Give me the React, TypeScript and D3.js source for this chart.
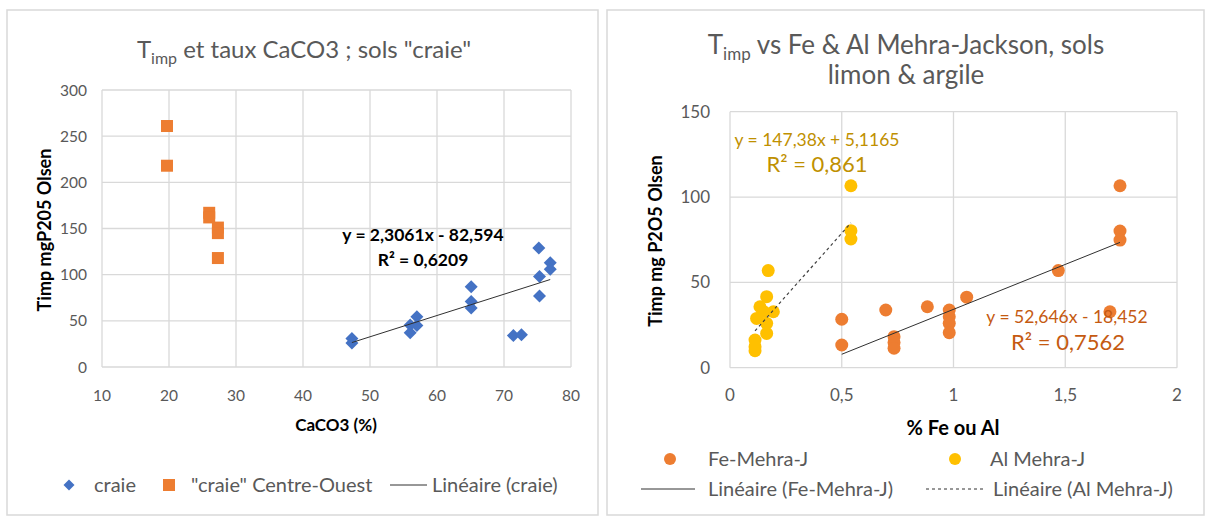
import React from "react";
import * as d3 from "d3";

// ---------- Data: left chart (CaCO3) ----------
const craieX = [47.3, 47.3, 56.0, 56.0, 57.0, 57.0, 65.1, 65.1, 65.1, 71.4, 72.6, 75.2, 75.3, 75.3, 76.9, 76.9];
const craieY = [31, 26, 45.5, 37, 54.5, 45, 87, 71, 64, 34, 35, 129, 98, 77, 113, 106];
const coX = [19.7, 19.7, 26.0, 26.0, 27.3, 27.3, 27.3];
const coY = [261, 218, 167, 162, 151, 145, 118];
const craieFit = [2.3061, -82.594];
const leftXTicks = [10, 20, 30, 40, 50, 60, 70, 80];
const leftYTicks = [0, 50, 100, 150, 200, 250, 300];

// ---------- Data: right chart (Fe / Al) ----------
const feX = [0.5, 0.5, 0.697, 0.734, 0.734, 0.734, 0.883, 0.981, 0.981, 0.981, 0.981, 1.059, 1.469, 1.70, 1.745, 1.745, 1.745];
const feY = [28.4, 13.3, 33.8, 18.2, 14.7, 11.4, 35.7, 33.8, 29.9, 26, 20.5, 41.3, 56.9, 32.8, 106.6, 80.1, 74.8];
const alX = [0.541, 0.541, 0.541, 0.171, 0.164, 0.134, 0.194, 0.149, 0.119, 0.164, 0.164, 0.112, 0.112, 0.112];
const alY = [106.6, 80.3, 75.4, 56.9, 41.6, 35.7, 32.8, 33, 28.9, 26, 20.1, 16.2, 12.3, 10];
const feFit = [52.646, -18.452];
const alFit = [147.38, 5.1165];
const rightXTicks = [0, 0.5, 1, 1.5, 2];
const rightYTicks = [0, 50, 100, 150];

const FONT = "Lato, 'Open Sans', sans-serif";
const GRID = "#d9d9d9";
const TICK = "#595959";
const BLUE = "#4472C4";
const ORANGE = "#ED7D31";
const YELLOW = "#FFC000";
const LEG = 20;

const fmt = (v: number) => String(v).replace(".", ",");

function diamond(cx: number, cy: number, r: number) {
  return `M${cx},${cy - r}L${cx + r},${cy}L${cx},${cy + r}L${cx - r},${cy}Z`;
}

function LeftChart() {
  const x = d3.scaleLinear().domain([10, 80]).range([102, 571]);
  const y = d3.scaleLinear().domain([0, 300]).range([367, 90]);
  const xs = d3.extent(craieX) as [number, number];
  const line = d3.line<number>().x((d) => x(d)).y((d) => y(craieFit[0] * d + craieFit[1]));
  return (
    <g>
      <rect x={7} y={10} width={591} height={505} fill="#fff" stroke={GRID} strokeWidth={1.5} />
      <text x={304} y={58} textAnchor="middle" fontSize={24} fill="#595959" fontFamily={FONT}>
        T<tspan fontSize={16} dy={6}>imp</tspan>
        <tspan dy={-6}> et taux CaCO3 ; sols "craie"</tspan>
      </text>
      {leftXTicks.map((t) => (
        <line key={"gx" + t} x1={x(t)} x2={x(t)} y1={y(0)} y2={y(300)} stroke={GRID} strokeWidth={1.3} />
      ))}
      {leftYTicks.map((t) => (
        <line key={"gy" + t} x1={x(10)} x2={x(80)} y1={y(t)} y2={y(t)} stroke={GRID} strokeWidth={1.3} />
      ))}
      {leftYTicks.map((t) => (
        <text key={"ty" + t} x={87} y={y(t) + 5.5} textAnchor="end" fontSize={15.5} fill={TICK} fontFamily={FONT}>
          {t}
        </text>
      ))}
      {leftXTicks.map((t) => (
        <text key={"tx" + t} x={x(t)} y={401} textAnchor="middle" fontSize={15.5} fill={TICK} fontFamily={FONT}>
          {t}
        </text>
      ))}
      <text x={336} y={431} textAnchor="middle" fontSize={17} fontWeight="bold" fill="#000" fontFamily={FONT}>
        CaCO3 (%)
      </text>
      <text transform={`translate(51,230) rotate(-90)`} textAnchor="middle" fontSize={18} fontWeight="bold" fill="#000" fontFamily={FONT}>
        Timp mgP205 Olsen
      </text>
      {coX.map((v, i) => (
        <rect key={"co" + i} x={x(v) - 6} y={y(coY[i]) - 6} width={12} height={12} fill={ORANGE} />
      ))}
      {craieX.map((v, i) => (
        <path key={"cr" + i} d={diamond(x(v), y(craieY[i]), 6.5)} fill={BLUE} />
      ))}
      <path d={line(xs) || ""} stroke="#303030" strokeWidth={1} fill="none" />
      <text x={423} y={241} textAnchor="middle" fontSize={17.5} fontWeight="bold" fill="#000" fontFamily={FONT}>
        y = 2,3061x - 82,594
      </text>
      <text x={423} y={266} textAnchor="middle" fontSize={17.5} fontWeight="bold" fill="#000" fontFamily={FONT}>
        R² = 0,6209
      </text>
      {/* legend */}
      <path d={diamond(69, 485, 5.5)} fill={BLUE} />
      <text x={94} y={492} fontSize={LEG} fill={TICK} fontFamily={FONT}>craie</text>
      <rect x={163} y={479} width={12} height={12} fill={ORANGE} />
      <text x={191} y={492} fontSize={LEG} fill={TICK} fontFamily={FONT}>"craie" Centre-Ouest</text>
      <line x1={390} x2={427} y1={485} y2={485} stroke="#303030" strokeWidth={1} />
      <text x={432} y={492} fontSize={LEG} fill={TICK} fontFamily={FONT}>Linéaire (craie)</text>
    </g>
  );
}

function RightChart() {
  const x = d3.scaleLinear().domain([0, 2]).range([730, 1177]);
  const y = d3.scaleLinear().domain([0, 150]).range([367.7, 111.7]);
  const feExt = d3.extent(feX) as [number, number];
  const alExt = d3.extent(alX) as [number, number];
  const feLine = d3.line<number>().x((d) => x(d)).y((d) => y(feFit[0] * d + feFit[1]));
  const alLine = d3.line<number>().x((d) => x(d)).y((d) => y(alFit[0] * d + alFit[1]));
  return (
    <g>
      <rect x={607} y={10} width={597} height={505} fill="#fff" stroke={GRID} strokeWidth={1.5} />
      <text x={906} y={54} textAnchor="middle" fontSize={26} fill="#595959" fontFamily={FONT}>
        T<tspan fontSize={17} dy={6}>imp</tspan>
        <tspan dy={-6}> vs Fe &amp; Al Mehra-Jackson, sols</tspan>
      </text>
      <text x={906} y={84} textAnchor="middle" fontSize={26} fill="#595959" fontFamily={FONT}>
        limon &amp; argile
      </text>
      {rightXTicks.map((t) => (
        <line key={"gx" + t} x1={x(t)} x2={x(t)} y1={y(0)} y2={y(150)} stroke={GRID} strokeWidth={1.3} />
      ))}
      {rightYTicks.map((t) => (
        <line key={"gy" + t} x1={x(0)} x2={x(2)} y1={y(t)} y2={y(t)} stroke={GRID} strokeWidth={1.3} />
      ))}
      {rightYTicks.map((t) => (
        <text key={"ty" + t} x={710} y={y(t) + 6} textAnchor="end" fontSize={17} fill={TICK} fontFamily={FONT}>
          {t}
        </text>
      ))}
      {rightXTicks.map((t) => (
        <text key={"tx" + t} x={x(t)} y={401} textAnchor="middle" fontSize={17} fill={TICK} fontFamily={FONT}>
          {fmt(t)}
        </text>
      ))}
      <text x={953} y={435} textAnchor="middle" fontSize={20} fontWeight="bold" fill="#000" fontFamily={FONT}>
        % Fe ou Al
      </text>
      <text transform={`translate(662,241) rotate(-90)`} textAnchor="middle" fontSize={18} fontWeight="bold" fill="#000" fontFamily={FONT}>
        Timp mg P2O5 Olsen
      </text>
      {feX.map((v, i) => (
        <circle key={"fe" + i} cx={x(v)} cy={y(feY[i])} r={6.5} fill={ORANGE} />
      ))}
      {alX.map((v, i) => (
        <circle key={"al" + i} cx={x(v)} cy={y(alY[i])} r={6.5} fill={YELLOW} />
      ))}
      <path d={feLine(feExt) || ""} stroke="#303030" strokeWidth={1} fill="none" />
      <path d={alLine(alExt) || ""} stroke="#404040" strokeWidth={1.2} strokeDasharray="3,3" fill="none" />
      <text x={817} y={146} textAnchor="middle" fontSize={17.5} fill="#BF9000" fontFamily={FONT}>
        y = 147,38x + 5,1165
      </text>
      <text x={817} y={172} textAnchor="middle" fontSize={22} fill="#BF9000" fontFamily={FONT}>
        R² = 0,861
      </text>
      <text x={1067} y={323} textAnchor="middle" fontSize={17.5} fill="#C55A11" fontFamily={FONT}>
        y = 52,646x - 18,452
      </text>
      <text x={1068} y={350} textAnchor="middle" fontSize={22} fill="#C55A11" fontFamily={FONT}>
        R² = 0,7562
      </text>
      {/* legend */}
      <circle cx={670} cy={459} r={6} fill={ORANGE} />
      <text x={708} y={466} fontSize={LEG} fill={TICK} fontFamily={FONT}>Fe-Mehra-J</text>
      <circle cx={955} cy={459} r={6} fill={YELLOW} />
      <text x={990} y={466} fontSize={LEG} fill={TICK} fontFamily={FONT}>Al Mehra-J</text>
      <line x1={641} x2={695} y1={489} y2={489} stroke="#303030" strokeWidth={1} />
      <text x={708} y={496} fontSize={LEG} fill={TICK} fontFamily={FONT}>Linéaire (Fe-Mehra-J)</text>
      <line x1={926} x2={984} y1={489} y2={489} stroke="#303030" strokeWidth={1} strokeDasharray="3,3" />
      <text x={993} y={496} fontSize={LEG} fill={TICK} fontFamily={FONT}>Linéaire (Al Mehra-J)</text>
    </g>
  );
}

export default function App() {
  return (
    <svg width={1208} height={517} style={{ position: "absolute", left: 0, top: 0, display: "block" }}>
      <rect x={0} y={0} width={1208} height={517} fill="#fff" />
      <LeftChart />
      <RightChart />
    </svg>
  );
}
